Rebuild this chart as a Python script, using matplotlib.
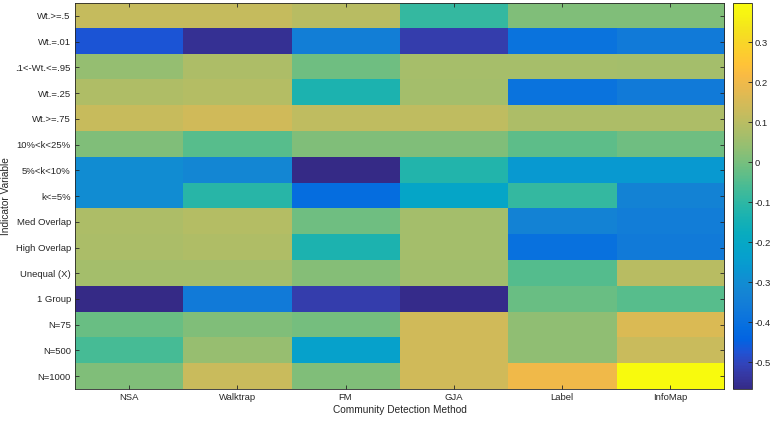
import numpy as np
import matplotlib
matplotlib.use("Agg")
import matplotlib.pyplot as plt
from matplotlib.colors import LinearSegmentedColormap

plt.rcParams['font.family'] = ['Liberation Sans', 'DejaVu Sans']

methods = ['NSA', 'Walktrap', 'FM', 'GJA', 'Label', 'InfoMap']
indicators = ['Wt.>=.5', 'Wt.=.01', '.1<-Wt.<=.95', 'Wt.=.25', 'Wt.>=.75',
              '10%<k<25%', '5%<k<10%', 'k<=5%', 'Med Overlap', 'High Overlap',
              'Unequal (X)', '1 Group', 'N=75', 'N=500', 'N=1000']

# rows = indicators, columns = methods
values = np.array([
    [0.12, 0.12, 0.10, -0.09, 0.01, 0.01],
    [-0.47, -0.55, -0.345, -0.52, -0.39, -0.36],
    [0.04, 0.08, -0.01, 0.07, 0.07, 0.065],
    [0.085, 0.09, -0.13, 0.065, -0.39, -0.36],
    [0.125, 0.14, 0.11, 0.11, 0.08, 0.08],
    [0.01, -0.04, 0.01, 0.01, -0.035, -0.01],
    [-0.30, -0.32, -0.565, -0.12, -0.26, -0.26],
    [-0.30, -0.11, -0.41, -0.21, -0.09, -0.33],
    [0.08, 0.09, -0.01, 0.065, -0.33, -0.35],
    [0.075, 0.085, -0.13, 0.065, -0.40, -0.36],
    [0.065, 0.065, 0.02, 0.06, -0.045, 0.10],
    [-0.567, -0.36, -0.52, -0.56, -0.02, -0.04],
    [-0.02, 0.01, -0.005, 0.14, 0.035, 0.16],
    [-0.065, 0.045, -0.23, 0.14, 0.035, 0.13],
    [0.01, 0.13, 0.01, 0.14, 0.20, 0.398],
])

# MATLAB parula (sampled)
parula_pts = [
    [0.2081, 0.1663, 0.5292], [0.2123, 0.2138, 0.6270], [0.1959, 0.2645, 0.7279],
    [0.1253, 0.3242, 0.8303], [0.0117, 0.3875, 0.8820], [0.0165, 0.4266, 0.8786],
    [0.0498, 0.4586, 0.8641], [0.0723, 0.4887, 0.8467], [0.0793, 0.5200, 0.8312],
    [0.0641, 0.5570, 0.8240], [0.0343, 0.5966, 0.8199], [0.0239, 0.6287, 0.8038],
    [0.0228, 0.6535, 0.7768], [0.0384, 0.6743, 0.7436], [0.0843, 0.6928, 0.7062],
    [0.1453, 0.7098, 0.6646], [0.2178, 0.7250, 0.6193], [0.3022, 0.7376, 0.5712],
    [0.3953, 0.7459, 0.5244], [0.4871, 0.7491, 0.4840], [0.5709, 0.7485, 0.4494],
    [0.6473, 0.7456, 0.4188], [0.7184, 0.7411, 0.3905], [0.7858, 0.7356, 0.3633],
    [0.8507, 0.7299, 0.3360], [0.9139, 0.7258, 0.3063], [0.9739, 0.7314, 0.2666],
    [0.9990, 0.7653, 0.2164], [0.9880, 0.8066, 0.1794], [0.9697, 0.8481, 0.1475],
    [0.9589, 0.8949, 0.1132], [0.9661, 0.9514, 0.0755], [0.9763, 0.9831, 0.0538],
]
parula = LinearSegmentedColormap.from_list('parula', parula_pts, N=256)

fig = plt.figure(figsize=(7.73, 4.22), dpi=100)
ax = fig.add_axes([0.097, 0.078, 0.84, 0.915])
cax = fig.add_axes([0.948, 0.078, 0.0246, 0.915])

im = ax.imshow(values, cmap=parula, vmin=-0.567, vmax=0.398, aspect='auto',
               interpolation='nearest')

grey = '#262626'
fs = 6.8
ax.set_xticks(range(len(methods)))
ax.set_xticklabels(methods)
ax.set_yticks(range(len(indicators)))
ax.set_yticklabels(indicators)
ax.tick_params(direction='in', length=3, width=0.6, colors=grey, labelsize=fs,
               top=True, right=True, pad=3)
for s in ax.spines.values():
    s.set_color(grey)
    s.set_linewidth(0.6)
ax.set_xlabel('Community Detection Method', fontsize=7.3, color=grey, labelpad=2)
ax.set_ylabel('Indicator Variable', fontsize=7.3, color=grey)
ax.yaxis.set_label_coords(-0.098, 0.5)

cb = fig.colorbar(im, cax=cax)
cb.set_ticks([-0.5, -0.4, -0.3, -0.2, -0.1, 0, 0.1, 0.2, 0.3])
cb.set_ticklabels(['-0.5', '-0.4', '-0.3', '-0.2', '-0.1', '0', '0.1', '0.2', '0.3'])
cax.tick_params(direction='in', length=3, width=0.6, colors=grey, labelsize=fs, pad=2)
cb.outline.set_edgecolor(grey)
cb.outline.set_linewidth(0.6)

fig.savefig('out.png', dpi=100)
